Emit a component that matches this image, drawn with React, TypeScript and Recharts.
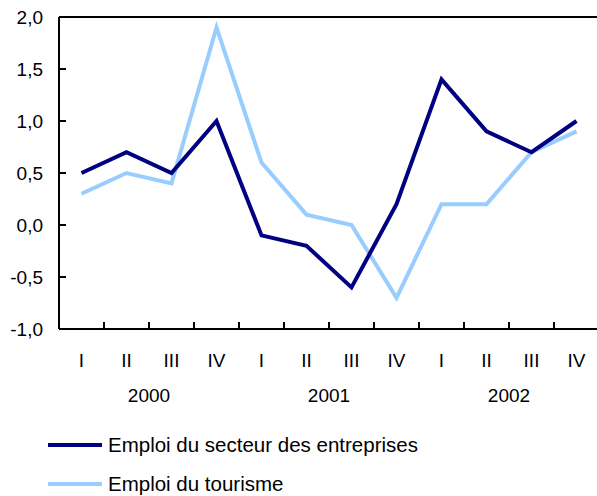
import React from "react";
import { LineChart, Line, XAxis, YAxis, ReferenceLine } from "recharts";

const quarters = ["I", "II", "III", "IV", "I", "II", "III", "IV", "I", "II", "III", "IV"];
const years = ["2000", "2000", "2000", "2000", "2001", "2001", "2001", "2001", "2002", "2002", "2002", "2002"];
const yearTicks = ["2000", "2001", "2002"];
const entreprises = [0.5, 0.7, 0.5, 1.0, -0.1, -0.2, -0.6, 0.2, 1.4, 0.9, 0.7, 1.0];
const tourisme = [0.3, 0.5, 0.4, 1.9, 0.6, 0.1, 0.0, -0.7, 0.2, 0.2, 0.7, 0.9];
const yTicks = [-1, -0.5, 0, 0.5, 1, 1.5, 2];

const seriesNames = ["Emploi du secteur des entreprises", "Emploi du tourisme"];
const colors = ["#000080", "#99CCFF"];

const data = quarters.map((q, i) => ({
  key: `${years[i]}-${q}`,
  q,
  year: years[i],
  entreprises: entreprises[i],
  tourisme: tourisme[i],
}));

const FONT = "'Liberation Sans', Arial, sans-serif";
const HALF_BAND = 22.5;
const AXIS_FS = 19;

const YTick = (props: any) => {
  const { x, y, payload } = props;
  return (
    <g>
      <line x1={x} x2={x + 7} y1={y} y2={y} stroke="#000" strokeWidth={2} />
      <text x={x - 16} y={y} dy="0.35em" textAnchor="end" fontFamily={FONT} fontSize={AXIS_FS} fill="#000">
        {payload.value.toFixed(1).replace(".", ",")}
      </text>
    </g>
  );
};

const QTick = (props: any) => {
  const { x, y, payload, index } = props;
  return (
    <g>
      {index > 0 && (
        <line x1={x - HALF_BAND} x2={x - HALF_BAND} y1={y} y2={y - 7} stroke="#000" strokeWidth={2} />
      )}
      <text x={x} y={y + 31} dy="0.35em" textAnchor="middle" fontFamily={FONT} fontSize={AXIS_FS} fill="#000">
        {quarters[index] ?? payload.value}
      </text>
    </g>
  );
};

const YearTick = (props: any) => {
  const { x, y, payload } = props;
  return (
    <text x={x} y={y + 21} dy="0.35em" textAnchor="middle" fontFamily={FONT} fontSize={AXIS_FS} fill="#000">
      {payload.value}
    </text>
  );
};

export default function App() {
  return (
    <div style={{ position: "absolute", left: 0, top: 0, width: 597, height: 496, overflow: "hidden", background: "#fff" }}>
      <LineChart width={600} height={420} data={data} margin={{ top: 17, right: 1, left: 0, bottom: 6 }}>
        <XAxis
          dataKey="key"
          type="category"
          scale="band"
          axisLine={{ stroke: "#000", strokeWidth: 2 }}
          tickLine={false}
          tickSize={0}
          tickMargin={0}
          interval={0}
          height={45}
          tick={<QTick />}
        />
        <XAxis
          xAxisId="year"
          dataKey="year"
          type="category"
          scale="band"
          allowDuplicatedCategory={false}
          ticks={yearTicks}
          axisLine={false}
          tickLine={false}
          tickSize={0}
          tickMargin={0}
          interval={0}
          height={40}
          tick={<YearTick />}
        />
        <YAxis
          domain={[-1, 2]}
          ticks={yTicks}
          width={59}
          axisLine={{ stroke: "#000", strokeWidth: 2 }}
          tickLine={false}
          tickSize={0}
          tickMargin={0}
          interval={0}
          tick={<YTick />}
        />
        <ReferenceLine y={2} stroke="#000" strokeWidth={2} />
        <Line type="linear" dataKey="tourisme" stroke={colors[1]} strokeWidth={4} dot={false} isAnimationActive={false} />
        <Line type="linear" dataKey="entreprises" stroke={colors[0]} strokeWidth={4} dot={false} isAnimationActive={false} />
      </LineChart>
      {seriesNames.map((name, i) => (
        <div key={name} style={{ position: "absolute", left: 48, top: 433 + i * 39, height: 24, display: "flex", alignItems: "center" }}>
          <svg width={56} height={8} style={{ display: "block" }}>
            <line x1={0} x2={54} y1={4} y2={4} stroke={colors[i]} strokeWidth={4} />
          </svg>
          <span style={{ fontFamily: FONT, fontSize: 20.5, lineHeight: "24px", color: "#000", marginLeft: 4, whiteSpace: "nowrap" }}>{name}</span>
        </div>
      ))}
    </div>
  );
}
